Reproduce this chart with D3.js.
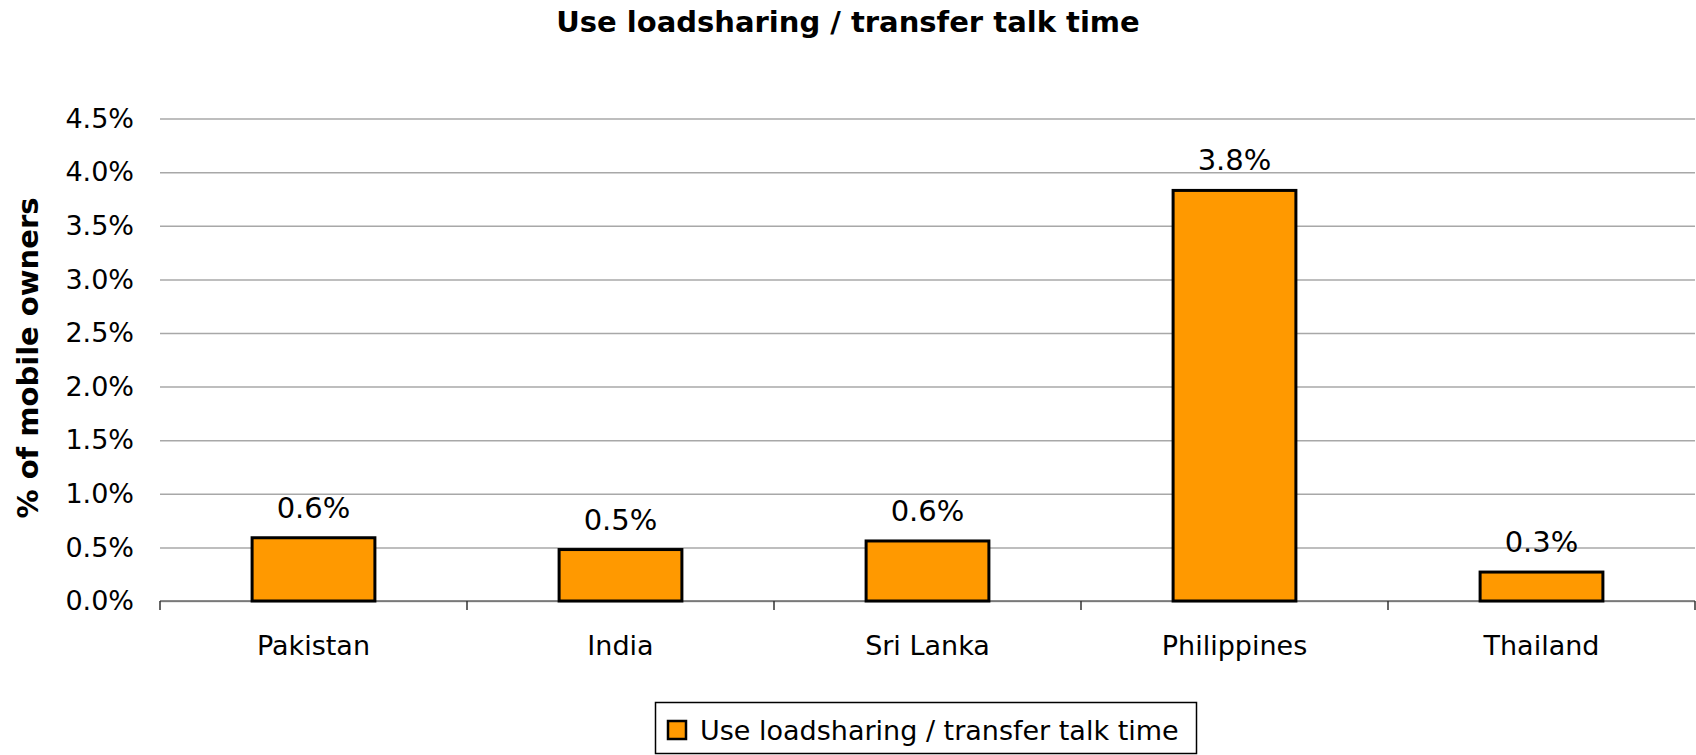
<!DOCTYPE html>
<html>
<head>
<meta charset="utf-8">
<script src="https://cdn.jsdelivr.net/npm/d3@7"></script>
<style>
  html, body { margin: 0; padding: 0; background: #fff; }
  svg { display: block; font-family: "DejaVu Sans", Verdana, sans-serif; }
</style>
</head>
<body>
<svg id="chart" width="1696" height="755"></svg>
<script>
// Share of mobile owners who use loadsharing / transfer talk time, by country
const categories = ["Pakistan", "India", "Sri Lanka", "Philippines", "Thailand"];
const shares = [0.0059, 0.0048, 0.0056, 0.0383, 0.0027];
const yTicks = [0, 0.005, 0.01, 0.015, 0.02, 0.025, 0.03, 0.035, 0.04, 0.045];
const seriesName = "Use loadsharing / transfer talk time";
const chartTitle = "Use loadsharing / transfer talk time";
const yTitle = "% of mobile owners";

const W = 1696, H = 755;
const plot = { left: 160, right: 1695, top: 118.6, bottom: 601 };

const svg = d3.select("#chart");
const pct = d3.format(".1%");

const x = d3.scaleBand()
  .domain(categories)
  .range([plot.left, plot.right])
  .paddingInner(0.6)
  .paddingOuter(0.3);

const y = d3.scaleLinear()
  .domain([0, 0.045])
  .range([plot.bottom, plot.top]);

// Horizontal gridlines with value labels
const yAxis = svg.append("g")
  .attr("transform", `translate(${plot.left},0)`)
  .call(d3.axisLeft(y)
    .tickValues(yTicks)
    .tickFormat(pct)
    .tickSize(-(plot.right - plot.left))
    .tickPadding(26));
yAxis.select(".domain").remove();
yAxis.selectAll(".tick line")
  .attr("stroke", "#a8a8a8")
  .attr("stroke-width", 1.5);
yAxis.selectAll(".tick text")
  .attr("fill", "#000")
  .attr("font-size", 27)
  .attr("font-family", "DejaVu Sans, sans-serif");

// Category axis: baseline and tick marks between categories
const step = x.step();
const boundaries = categories.map(c => x(c) - step * x.paddingOuter());
boundaries.push(plot.right);

svg.append("line")
  .attr("x1", plot.left).attr("x2", plot.right)
  .attr("y1", y(0)).attr("y2", y(0))
  .attr("stroke", "#6a6a6a")
  .attr("stroke-width", 1.5);

svg.append("g").selectAll("line")
  .data(boundaries)
  .join("line")
  .attr("x1", d => d).attr("x2", d => d)
  .attr("y1", y(0)).attr("y2", y(0) + 9)
  .attr("stroke", "#333")
  .attr("stroke-width", 1.5);

svg.append("g").selectAll("text")
  .data(categories)
  .join("text")
  .attr("x", d => x(d) + x.bandwidth() / 2)
  .attr("y", 655)
  .attr("text-anchor", "middle")
  .attr("font-size", 27)
  .attr("fill", "#000")
  .text(d => d);

// Bars
const data = categories.map((c, i) => ({ cat: c, value: shares[i] }));

svg.append("g").selectAll("rect")
  .data(data)
  .join("rect")
  .attr("x", d => x(d.cat))
  .attr("y", d => y(d.value))
  .attr("width", x.bandwidth())
  .attr("height", d => y(0) - y(d.value))
  .attr("fill", "#ff9900")
  .attr("stroke", "#000")
  .attr("stroke-width", 3);

// Value labels above bars
svg.append("g").selectAll("text")
  .data(data)
  .join("text")
  .attr("x", d => x(d.cat) + x.bandwidth() / 2)
  .attr("y", d => y(d.value) - 20)
  .attr("text-anchor", "middle")
  .attr("font-size", 29)
  .attr("fill", "#000")
  .text(d => pct(d.value));

// Chart title
svg.append("text")
  .attr("x", W / 2)
  .attr("y", 32)
  .attr("text-anchor", "middle")
  .attr("font-size", 29)
  .attr("font-weight", "bold")
  .attr("fill", "#000")
  .text(chartTitle);

// Y axis title
svg.append("text")
  .attr("transform", `translate(38,358) rotate(-90)`)
  .attr("text-anchor", "middle")
  .attr("font-size", 29)
  .attr("font-weight", "bold")
  .attr("fill", "#000")
  .text(yTitle);

// Legend
const legend = svg.append("g");
legend.append("rect")
  .attr("x", 655.5).attr("y", 702.5)
  .attr("width", 541).attr("height", 51)
  .attr("fill", "#fff")
  .attr("stroke", "#000")
  .attr("stroke-width", 1.5);
legend.append("rect")
  .attr("x", 668).attr("y", 721)
  .attr("width", 18).attr("height", 18)
  .attr("fill", "#ff9900")
  .attr("stroke", "#000")
  .attr("stroke-width", 2.5);
legend.append("text")
  .attr("x", 700)
  .attr("y", 740)
  .attr("font-size", 27)
  .attr("fill", "#000")
  .text(seriesName);
</script>
</body>
</html>
